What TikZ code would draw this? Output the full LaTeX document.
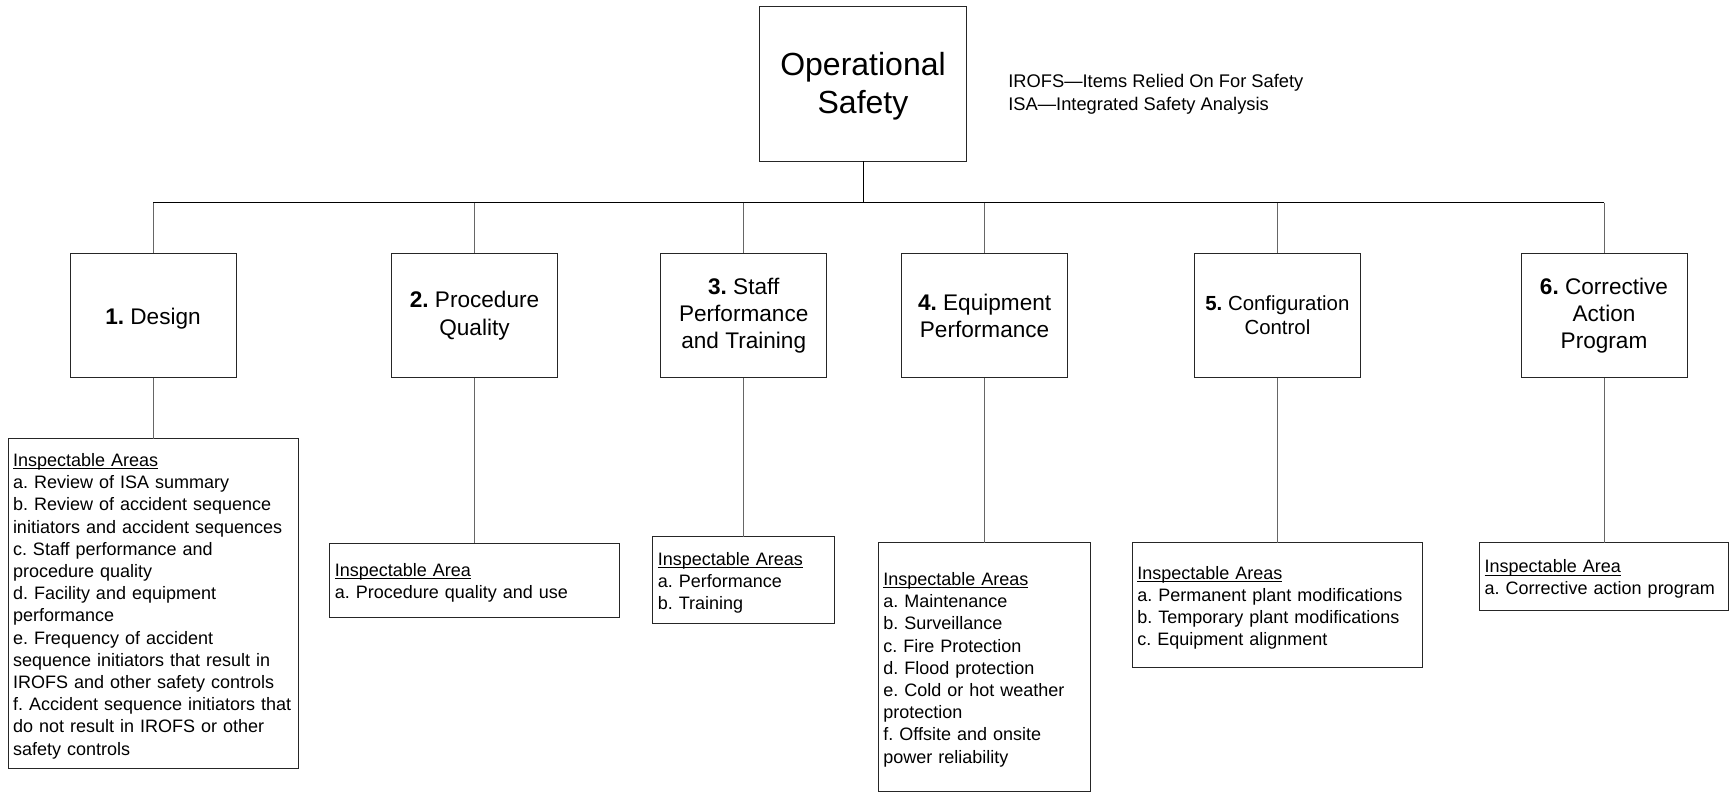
\documentclass[tikz,border=0pt]{standalone}
\usepackage{fontspec}
\setmainfont{Liberation Sans}
\usetikzlibrary{positioning}
\def \px {0.5pt}
\newcommand\areahead[1]{\setbox0\hbox{#1}\rlap{\rule[-1.4pt]{\wd0}{0.5pt}}\box0}
\frenchspacing

\begin{document}
\begin{tikzpicture}[x=\px,y=-\px,
    box/.style={draw=black!85,line width=0.5pt,outer sep=0pt},
    head/.style={box,minimum width=83pt,minimum height=62.3pt,inner sep=0pt,align=center,font=\fontsize{11.3}{13.6}\selectfont,execute at begin node={\rule{0pt}{11pt}}},
    area/.style={box,align=left,inner xsep=2.5pt,inner ysep=0pt,anchor=north,font=\fontsize{9}{11.1}\selectfont,execute at begin node={\rule{0pt}{8.8pt}}},
    drop/.style={draw=black!60,line width=0.5pt}]
    \useasboundingbox (0,0) rectangle (1730,793);
    \node[box,minimum width=103.6pt,minimum height=77.6pt,align=center,font=\fontsize{16}{19}\selectfont] (top) at (863,83.7) {\rule{0pt}{14.5pt}Operational\\Safety};
    \node[anchor=north west,inner sep=0pt,align=left,font=\fontsize{9.15}{11.7}\selectfont] (key) at (1008,73.8) {IROFS—Items Relied On For Safety\\ISA—Integrated Safety Analysis};

    \node[head] (d1) at (153,315.6) {\textbf{1.} Design};
    \node[head,right=77.75pt of d1] (d2) {\textbf{2.} Procedure\\Quality};
    \node[head,right=51.6pt of d2] (d3) {\textbf{3.} Staff\\Performance\\and Training};
    \node[head,right=37.45pt of d3] (d4) {\textbf{4.} Equipment\\Performance};
    \node[head,right=63.4pt of d4,font=\fontsize{10.2}{12}\selectfont] (d5) {\textbf{5.} Configuration\\Control};
    \node[head,right=80.3pt of d5] (d6) {\textbf{6.} Corrective\\Action\\Program};

    \node[area,below=30.5pt of d1,text width=140pt,minimum height=165pt] (a1) {\areahead{Inspectable Areas}\\a. Review of ISA summary\\b. Review of accident sequence\\initiators and accident sequences\\c. Staff performance and\\procedure quality\\d. Facility and equipment\\performance\\e. Frequency of accident\\sequence initiators that result in\\IROFS and other safety controls\\f. Accident sequence initiators that\\do not result in IROFS or other\\safety controls};
    \node[area,below=82.7pt of d2,text width=139.7pt,minimum height=37pt] (a2) {\areahead{Inspectable Area}\\a. Procedure quality and use};
    \node[area,below=79.5pt of d3,text width=85.85pt,minimum height=43.5pt] (a3) {\areahead{Inspectable Areas}\\a. Performance\\b. Training};
    \node[area,below=82.5pt of d4,text width=101.3pt,minimum height=124.5pt] (a4) {\areahead{Inspectable Areas}\\a. Maintenance\\b. Surveillance\\c. Fire Protection\\d. Flood protection\\e. Cold or hot weather\\protection\\f. Offsite and onsite\\power reliability};
    \node[area,below=82.5pt of d5,text width=140.1pt,minimum height=62.5pt] (a5) {\areahead{Inspectable Areas}\\a. Permanent plant modifications\\b. Temporary plant modifications\\c. Equipment alignment};
    \node[area,below=82.5pt of d6,text width=119.3pt,minimum height=34pt] (a6) {\areahead{Inspectable Area}\\a. Corrective action program};

    \coordinate (bus) at (0,202.7);
    \draw[line width=0.5pt] (top.south) -- (top.south |- bus);
    \draw[line width=0.5pt] (d1.north |- bus) -- (d6.north |- bus);
    \foreach \n in {1,...,6} {
        \draw[drop] (d\n.north |- bus) -- (d\n.north);
        \draw[drop] (d\n) -- (a\n);
    }
\end{tikzpicture}
\end{document}
